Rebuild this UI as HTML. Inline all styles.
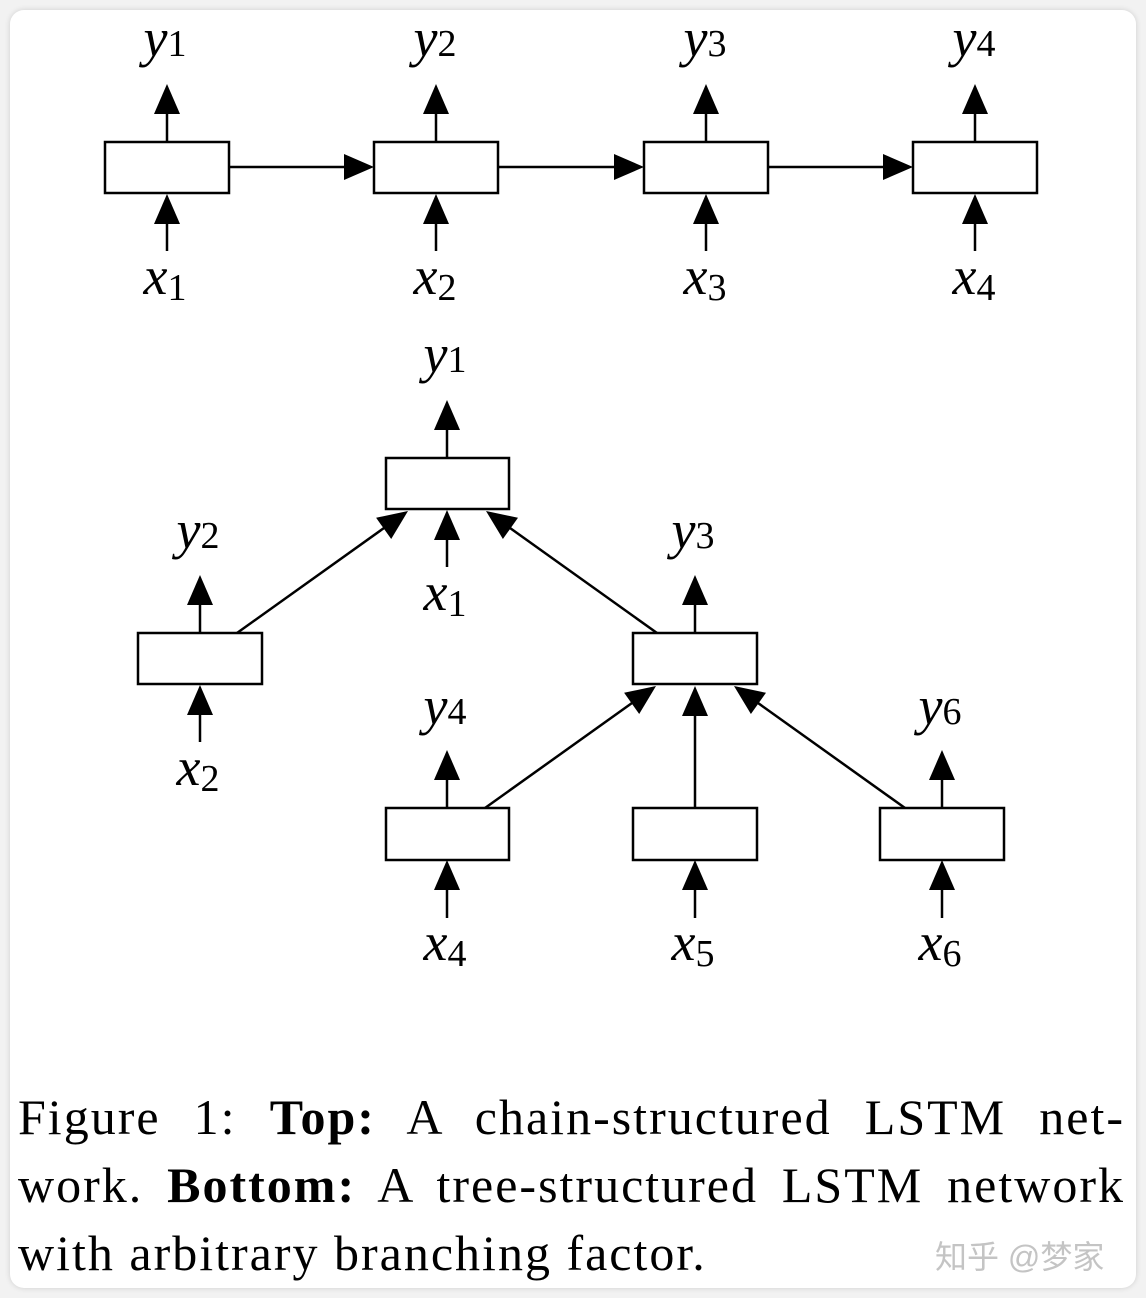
<!DOCTYPE html>
<html><head><meta charset="utf-8"><style>
html,body{margin:0;padding:0;background:#f2f2f2;}
#card{position:absolute;left:10px;top:10px;width:1126px;height:1278px;background:#fff;border-radius:14px;box-shadow:0 0 6px rgba(0,0,0,0.15);}
svg{position:absolute;left:0;top:0;}
.cap{position:absolute;left:18px;width:1107px;font-family:"Liberation Serif",serif;font-size:50px;letter-spacing:2px;line-height:68px;color:#000;}
.l{text-align:justify;text-align-last:justify;white-space:nowrap;}
.wm{position:absolute;left:935px;top:1232px;font-family:"Liberation Sans","Noto Sans CJK SC",sans-serif;font-size:32px;color:#c4c4c4;}
</style></head><body>
<div id="card"></div>
<svg width="1146" height="1298" viewBox="0 0 1146 1298">
<g fill="#fff" stroke="#000" stroke-width="2.5">
<rect x="105" y="142" width="124" height="51"/><rect x="374" y="142" width="124" height="51"/>
<rect x="644" y="142" width="124" height="51"/><rect x="913" y="142" width="124" height="51"/>
<rect x="386" y="458" width="123" height="51"/><rect x="138" y="633" width="124" height="51"/>
<rect x="633" y="633" width="124" height="51"/><rect x="386" y="808" width="123" height="52"/>
<rect x="633" y="808" width="124" height="52"/><rect x="880" y="808" width="124" height="52"/>
</g>
<g stroke="#000" stroke-width="2.5">
<line x1="167" y1="142" x2="167" y2="112"/><line x1="436" y1="142" x2="436" y2="112"/><line x1="706" y1="142" x2="706" y2="112"/><line x1="975" y1="142" x2="975" y2="112"/>
<line x1="167" y1="251" x2="167" y2="222"/><line x1="436" y1="251" x2="436" y2="222"/><line x1="706" y1="251" x2="706" y2="222"/><line x1="975" y1="251" x2="975" y2="222"/>
<line x1="229" y1="167" x2="345" y2="167"/><line x1="498" y1="167" x2="615" y2="167"/><line x1="768" y1="167" x2="884" y2="167"/>
<line x1="447" y1="458" x2="447" y2="429"/><line x1="447" y1="567" x2="447" y2="538"/>
<line x1="200" y1="633" x2="200" y2="604"/><line x1="200" y1="742" x2="200" y2="713"/>
<line x1="695" y1="633" x2="695" y2="604"/>
<line x1="447" y1="808" x2="447" y2="779"/><line x1="942" y1="808" x2="942" y2="779"/>
<line x1="447" y1="918" x2="447" y2="889"/><line x1="695" y1="918" x2="695" y2="889"/><line x1="942" y1="918" x2="942" y2="889"/>
<line x1="237" y1="633" x2="384" y2="528"/><line x1="657" y1="633" x2="510" y2="528"/>
<line x1="485" y1="808" x2="632" y2="703"/><line x1="695" y1="808" x2="695" y2="715"/><line x1="905" y1="808" x2="758" y2="703"/>
</g>
<g fill="#000">
<polygon points="167,84 154,114 180,114"/><polygon points="436,84 423,114 449,114"/><polygon points="706,84 693,114 719,114"/><polygon points="975,84 962,114 988,114"/>
<polygon points="167,194 154,224 180,224"/><polygon points="436,194 423,224 449,224"/><polygon points="706,194 693,224 719,224"/><polygon points="975,194 962,224 988,224"/>
<polygon points="374,167 344,154 344,180"/><polygon points="644,167 614,154 614,180"/><polygon points="913,167 883,154 883,180"/>
<polygon points="447,400 434,430 460,430"/><polygon points="447,510 434,540 460,540"/>
<polygon points="200,575 187,605 213,605"/><polygon points="200,685 187,715 213,715"/>
<polygon points="695,575 682,605 708,605"/>
<polygon points="447,750 434,780 460,780"/><polygon points="942,750 929,780 955,780"/>
<polygon points="447,860 434,890 460,890"/><polygon points="695,860 682,890 708,890"/><polygon points="942,860 929,890 955,890"/>
<polygon points="408,511 391.2,539 376.1,517.8"/><polygon points="486,511 518,517.8 502.9,539"/>
<polygon points="656,686 639.2,714 624.1,692.8"/><polygon points="695,686 682,716 708,716"/><polygon points="734,686 766,692.8 750.9,714"/>
</g>
<g font-family="Liberation Serif,serif" font-size="54" text-anchor="middle" fill="#000">
<text x="165" y="56"><tspan font-style="italic">y</tspan><tspan font-size="38">1</tspan></text>
<text x="435" y="56"><tspan font-style="italic">y</tspan><tspan font-size="38">2</tspan></text>
<text x="705" y="56"><tspan font-style="italic">y</tspan><tspan font-size="38">3</tspan></text>
<text x="974" y="56"><tspan font-style="italic">y</tspan><tspan font-size="38">4</tspan></text>
<text x="165" y="294"><tspan font-style="italic">x</tspan><tspan font-size="38" dy="6">1</tspan></text>
<text x="435" y="294"><tspan font-style="italic">x</tspan><tspan font-size="38" dy="6">2</tspan></text>
<text x="705" y="294"><tspan font-style="italic">x</tspan><tspan font-size="38" dy="6">3</tspan></text>
<text x="974" y="294"><tspan font-style="italic">x</tspan><tspan font-size="38" dy="6">4</tspan></text>
<text x="445" y="372"><tspan font-style="italic">y</tspan><tspan font-size="38">1</tspan></text>
<text x="198" y="548"><tspan font-style="italic">y</tspan><tspan font-size="38">2</tspan></text>
<text x="693" y="548"><tspan font-style="italic">y</tspan><tspan font-size="38">3</tspan></text>
<text x="445" y="724"><tspan font-style="italic">y</tspan><tspan font-size="38">4</tspan></text>
<text x="940" y="724"><tspan font-style="italic">y</tspan><tspan font-size="38">6</tspan></text>
<text x="445" y="610"><tspan font-style="italic">x</tspan><tspan font-size="38" dy="6">1</tspan></text>
<text x="198" y="785"><tspan font-style="italic">x</tspan><tspan font-size="38" dy="6">2</tspan></text>
<text x="445" y="960"><tspan font-style="italic">x</tspan><tspan font-size="38" dy="6">4</tspan></text>
<text x="693" y="960"><tspan font-style="italic">x</tspan><tspan font-size="38" dy="6">5</tspan></text>
<text x="940" y="960"><tspan font-style="italic">x</tspan><tspan font-size="38" dy="6">6</tspan></text>
</g>
</svg>
<div class="cap l" style="top:1083px;">Figure 1: <b>Top:</b> A chain-structured LSTM net-</div>
<div class="cap l" style="top:1151px;">work. <b>Bottom:</b> A tree-structured LSTM network</div>
<div class="cap" style="top:1219px;">with arbitrary branching factor.</div>
<div class="wm">知乎 @梦家</div>
</body></html>
